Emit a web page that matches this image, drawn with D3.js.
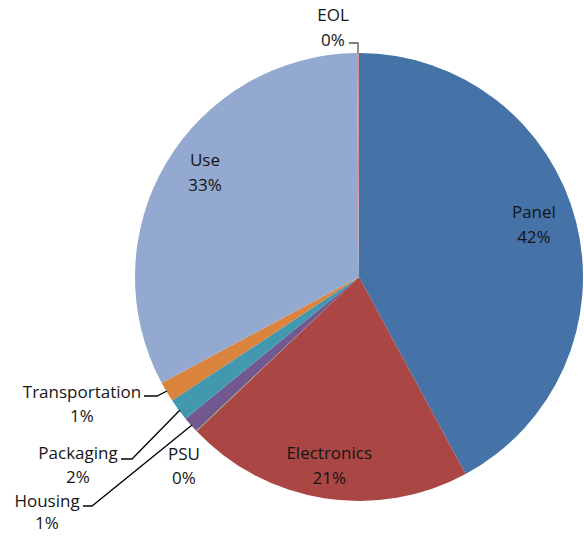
<!DOCTYPE html>
<html>
<head>
<meta charset="utf-8">
<script src="https://cdn.jsdelivr.net/npm/d3@7"></script>
<style>
  html, body { margin: 0; padding: 0; background: #fff; }
  svg { display: block; }
  text { font-family: "Open Sans", "Noto Sans", sans-serif; font-size: 17px; fill: #151515; }
</style>
</head>
<body>
<svg id="chart" width="584" height="537"></svg>
<script>
// ---- data ----
const categories = ["Panel", "Electronics", "PSU", "Housing", "Packaging", "Transportation", "Use", "EOL"];
const shares = [42.1, 20.8, 0.05, 1.15, 1.6, 1.45, 32.7, 0.15];
const percentLabels = ["42%", "21%", "0%", "1%", "2%", "1%", "33%", "0%"];
const colors = ["#4572A7", "#AA4643", "#89A54E", "#71588F", "#4198AF", "#DB843D", "#93A9CF", "#D19392"];

// ---- layout ----
const cx = 359, cy = 277, R = 224;
const lineGap = 25;

const svg = d3.select("#chart");
const g = svg.append("g").attr("transform", `translate(${cx},${cy})`);

const data = categories.map((c, i) => ({ name: c, value: shares[i], label: percentLabels[i], color: colors[i] }));

const pie = d3.pie().sort(null).value(d => d.value).startAngle(0).endAngle(2 * Math.PI);
const arcs = pie(data);
const arc = d3.arc().innerRadius(0).outerRadius(R);

g.selectAll("path.slice")
  .data(arcs)
  .join("path")
  .attr("class", "slice")
  .attr("d", arc)
  .attr("fill", d => d.data.color);

// inside labels follow slice centroid (with small nudges); small slices placed outside with leaders
const inside = {
  "Panel": { f: 0.81, dx: -1, dy: -8 },
  "Electronics": { f: 0.85, dx: 0, dy: 0 },
  "Use": { f: 0.83, dx: 6, dy: -10 }
};
const outside = {
  "EOL": { x: 333, y: 15, gap: 25, leader: [[349, 43], [358, 43], [358, 53]], color: "#555" },
  "Transportation": { x: 82, y: 392, gap: 24, leader: [[144, 396], [157, 396], [167, 391]], color: "#000" },
  "Packaging": { x: 78, y: 453, gap: 24, leader: [[121, 459], [132, 459], [180, 410]], color: "#000" },
  "Housing": { x: 47, y: 501, gap: 22, leader: [[83, 506], [92, 506], [192, 425]], color: "#000" },
  "PSU": { x: 184, y: 454, gap: 24, leader: null }
};

function twoLine(sel, x, y, a, b, gap) {
  const t = sel.append("text").attr("text-anchor", "middle");
  t.append("tspan").attr("x", x).attr("y", y).attr("dy", "0.35em").text(a);
  t.append("tspan").attr("x", x).attr("y", y + gap).attr("dy", "0.35em").text(b);
}

arcs.forEach(a => {
  const name = a.data.name;
  if (inside[name]) {
    const s = inside[name];
    const c = d3.arc().innerRadius(R * s.f).outerRadius(R * s.f).centroid(a);
    twoLine(svg, cx + c[0] + s.dx, cy + c[1] - lineGap / 2 + s.dy, name, a.data.label, lineGap);
  } else if (outside[name]) {
    const o = outside[name];
    if (o.leader) {
      svg.append("path")
        .attr("d", d3.line()(o.leader))
        .attr("fill", "none")
        .attr("stroke", o.color)
        .attr("stroke-width", 1.3);
    }
    twoLine(svg, o.x, o.y, name, a.data.label, o.gap);
  }
});
</script>
</body>
</html>
